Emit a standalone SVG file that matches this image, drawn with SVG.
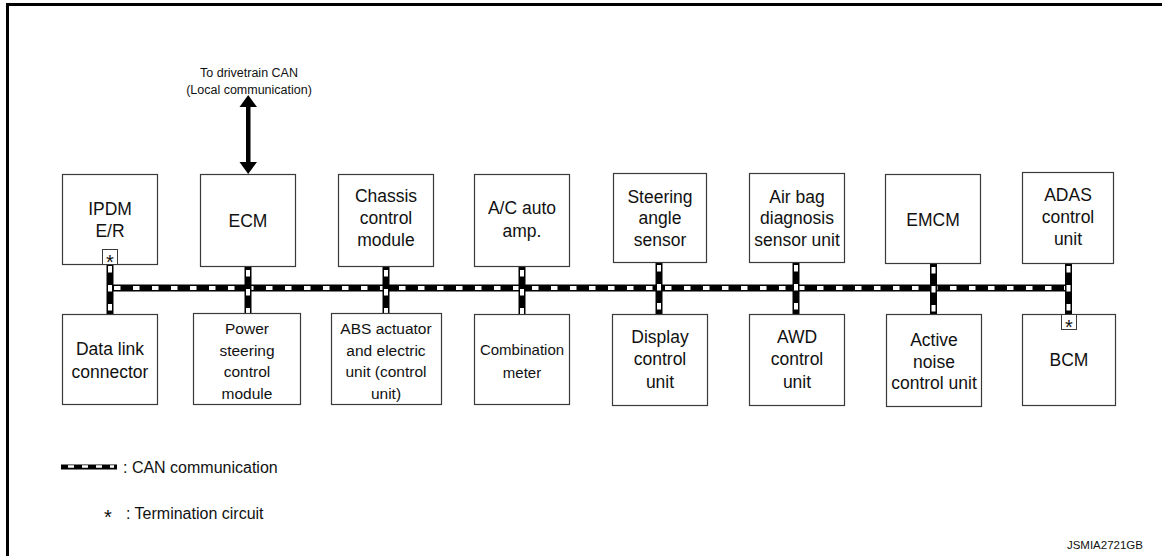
<svg xmlns="http://www.w3.org/2000/svg" width="1162" height="556" viewBox="0 0 1162 556">
  <style>
    .box { fill: #fff; stroke: #3a3a3a; stroke-width: 1.2; }
    .term { fill: #fff; stroke: #3a3a3a; stroke-width: 1; }
    text { font-family: "Liberation Sans", Arial, sans-serif; fill: #111; }
    .lbl { font-size: 17.5px; text-anchor: middle; }
    .sm { font-size: 15.5px; text-anchor: middle; }
    .star { font-size: 20px; text-anchor: middle; }
    .legend { font-size: 16px; }
    .note { font-size: 12.5px; text-anchor: middle; }
    .code { font-size: 11.5px; text-anchor: end; }
    .busB { stroke: #000; stroke-width: 7; fill: none; }
    .busW { stroke: #fff; stroke-width: 4; fill: none; stroke-dasharray: 6.5 12.5; }
    .legB { stroke: #000; stroke-width: 5; fill: none; }
    .legW { stroke: #fff; stroke-width: 2.5; fill: none; stroke-dasharray: 6 8; }
  </style>

  <rect width="1162" height="556" fill="#fff"/>

  <!-- page frame -->
  <path d="M7.5,556 V4.5 H1162" fill="none" stroke="#000" stroke-width="3"/>

  <!-- CAN bus wiring -->
  <g id="connectors">
    <path class="busB" d="M107,288 H1071"/>
    <path class="busW" d="M114,288 H1068"/>
    <g>
      <path class="busB" d="M110,262 V316 M248,266 V315 M386,266 V315 M522,266 V315 M659,261 V315 M796,261 V315 M933.5,263 V315 M1068.5,262 V316"/>
      <path class="busW" d="M110,266 V316 M248,270 V315 M386,270 V315 M522,270 V315 M659,265 V315 M796,265 V315 M933.5,267 V315 M1068.5,266 V316"/>
    </g>
    <!-- link to drivetrain CAN -->
    <g id="drivetrain-link">
      <rect x="246" y="105" width="4.5" height="58" fill="#000"/>
      <polygon points="248.2,95 239.5,107 257,107" fill="#000"/>
      <polygon points="248.2,174 239.5,162 257,162" fill="#000"/>
    </g>
  </g>

  <text class="note" x="249" y="77">To drivetrain CAN</text>
  <text class="note" x="249" y="94">(Local communication)</text>

  <!-- upper row -->
  <g id="ipdm">
    <rect class="box" x="62.5" y="174.5" width="95" height="90"/>
    <text class="lbl" x="110" y="215">IPDM</text>
    <text class="lbl" x="110" y="237">E/R</text>
    <rect class="term" x="102.5" y="249.5" width="15" height="15"/>
    <text class="star" x="110" y="268.5">*</text>
  </g>
  <g id="ecm">
    <rect class="box" x="200.5" y="174.5" width="95" height="92"/>
    <text class="lbl" x="248" y="227">ECM</text>
  </g>
  <g id="chassis">
    <rect class="box" x="338.5" y="174.5" width="95" height="92"/>
    <text class="lbl" x="386" y="202">Chassis</text>
    <text class="lbl" x="386" y="224">control</text>
    <text class="lbl" x="386" y="246">module</text>
  </g>
  <g id="ac-amp">
    <rect class="box" x="474.5" y="174.5" width="95" height="92"/>
    <text class="lbl" x="522" y="214">A/C auto</text>
    <text class="lbl" x="522" y="237">amp.</text>
  </g>
  <g id="steering-angle">
    <rect class="box" x="613.5" y="173.5" width="93" height="89"/>
    <text class="lbl" x="660" y="203">Steering</text>
    <text class="lbl" x="660" y="224">angle</text>
    <text class="lbl" x="660" y="246">sensor</text>
  </g>
  <g id="airbag">
    <rect class="box" x="749.5" y="173.5" width="95" height="89"/>
    <text class="lbl" x="797" y="203">Air bag</text>
    <text class="lbl" x="797" y="224">diagnosis</text>
    <text class="lbl" x="797" y="246">sensor unit</text>
  </g>
  <g id="emcm">
    <rect class="box" x="885.5" y="174.5" width="95" height="89"/>
    <text class="lbl" x="933" y="226">EMCM</text>
  </g>
  <g id="adas">
    <rect class="box" x="1022.5" y="172.5" width="91" height="91"/>
    <text class="lbl" x="1068" y="201">ADAS</text>
    <text class="lbl" x="1068" y="223">control</text>
    <text class="lbl" x="1068" y="245">unit</text>
  </g>

  <!-- lower row -->
  <g id="data-link">
    <rect class="box" x="62.5" y="314.5" width="95" height="90"/>
    <text class="lbl" x="110" y="355">Data link</text>
    <text class="lbl" x="110" y="378">connector</text>
  </g>
  <g id="power-steering">
    <rect class="box" x="193.5" y="313.5" width="107" height="91"/>
    <text class="sm" x="247" y="334">Power</text>
    <text class="sm" x="247" y="355.5">steering</text>
    <text class="sm" x="247" y="377">control</text>
    <text class="sm" x="247" y="398.5">module</text>
  </g>
  <g id="abs">
    <rect class="box" x="331.5" y="313.5" width="110" height="91"/>
    <text class="sm" x="386" y="334">ABS actuator</text>
    <text class="sm" x="386" y="355.5">and electric</text>
    <text class="sm" x="386" y="377">unit (control</text>
    <text class="sm" x="386" y="398.5">unit)</text>
  </g>
  <g id="combination-meter">
    <rect class="box" x="474.5" y="314.5" width="95" height="90"/>
    <text class="lbl" x="522" y="355" style="font-size:15px">Combination</text>
    <text class="lbl" x="522" y="378" style="font-size:15px">meter</text>
  </g>
  <g id="display">
    <rect class="box" x="612.5" y="314.5" width="95" height="91"/>
    <text class="lbl" x="660" y="343">Display</text>
    <text class="lbl" x="660" y="365">control</text>
    <text class="lbl" x="660" y="388">unit</text>
  </g>
  <g id="awd">
    <rect class="box" x="749.5" y="314.5" width="95" height="91"/>
    <text class="lbl" x="797" y="343">AWD</text>
    <text class="lbl" x="797" y="365">control</text>
    <text class="lbl" x="797" y="388">unit</text>
  </g>
  <g id="active-noise">
    <rect class="box" x="886.5" y="314.5" width="95" height="92"/>
    <text class="lbl" x="934" y="346">Active</text>
    <text class="lbl" x="934" y="368">noise</text>
    <text class="lbl" x="934" y="389">control unit</text>
  </g>
  <g id="bcm">
    <rect class="box" x="1022.5" y="314.5" width="93" height="91"/>
    <text class="lbl" x="1069" y="366">BCM</text>
    <rect class="term" x="1061.5" y="314.5" width="15" height="15"/>
    <text class="star" x="1069" y="333.5">*</text>
  </g>

  <!-- legend -->
  <g id="legend">
    <path class="legB" d="M61,467 H117"/>
    <path class="legW" d="M68,466.5 H114"/>
    <text class="legend" x="123" y="473">: CAN communication</text>
    <text class="star" x="108" y="524">*</text>
    <text class="legend" x="126" y="519">: Termination circuit</text>
  </g>

  <text class="code" x="1143" y="549">JSMIA2721GB</text>
</svg>
